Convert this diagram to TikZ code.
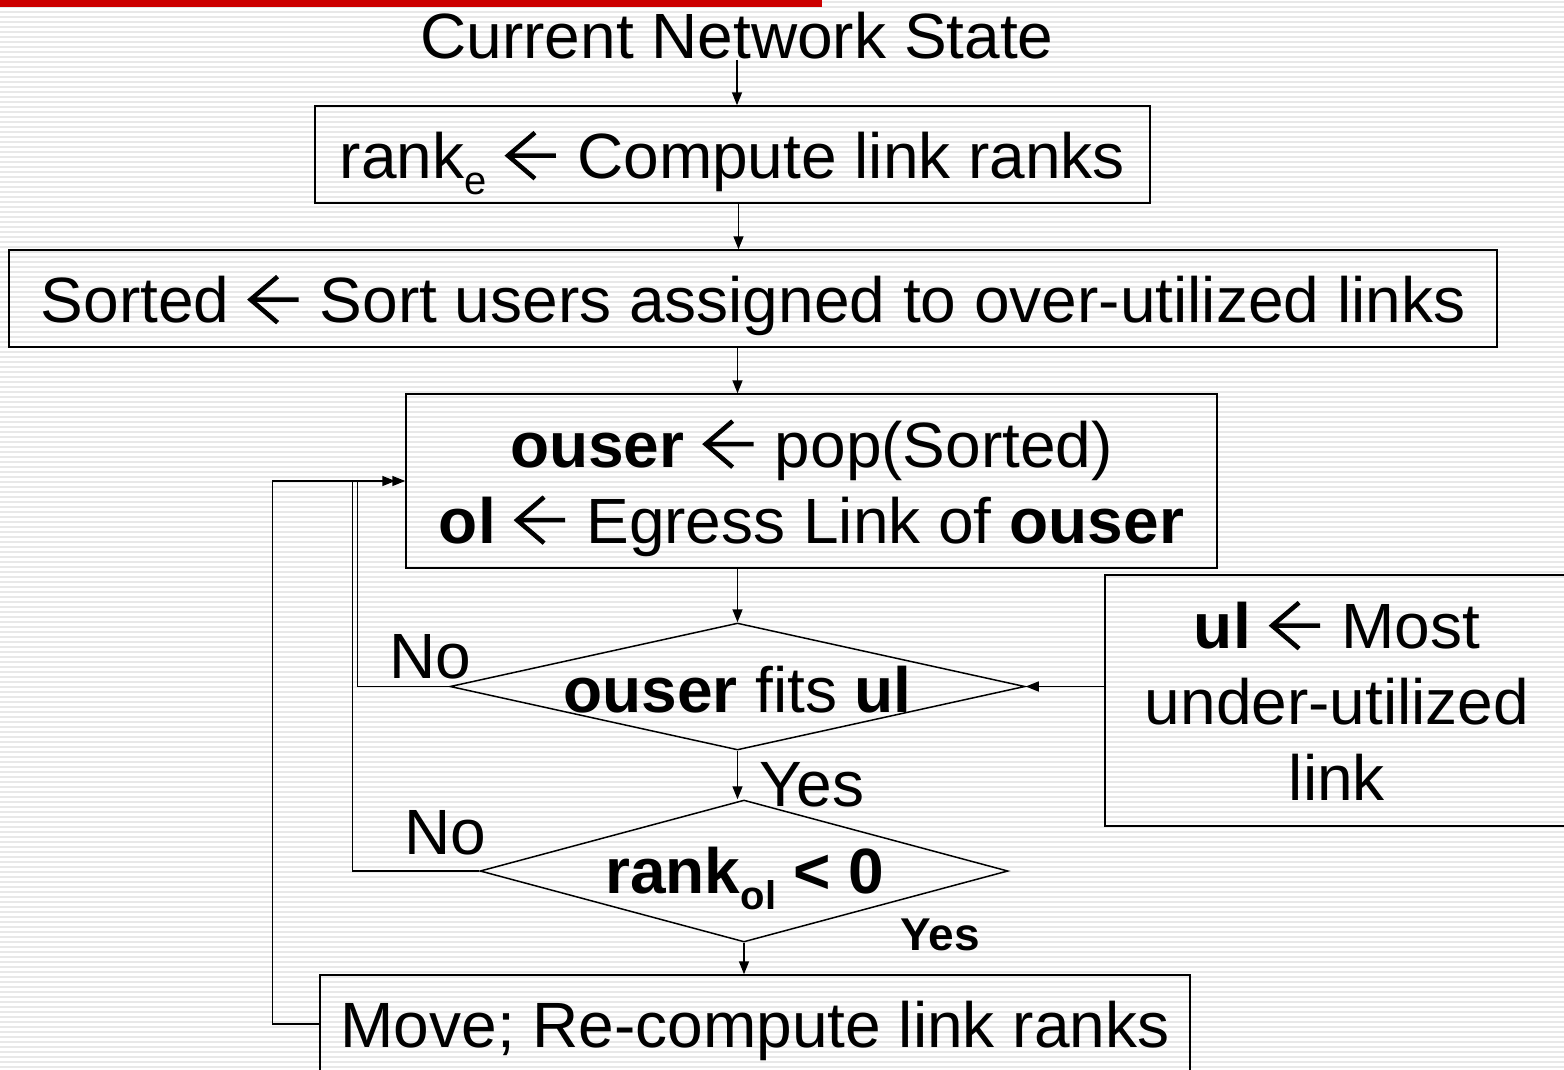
\documentclass[tikz,border=0pt]{standalone}
\usepackage{fontspec}
\setmainfont{Liberation Sans}
\usetikzlibrary{shapes.geometric,arrows.meta,calc}
\tikzset{
  box/.style={draw=black,line width=1.5pt,rectangle,inner sep=0pt,align=center,text depth=0pt,font=\fontsize{64}{76}\selectfont},
  dia/.style={draw=black,line width=1.5pt,diamond,inner sep=0pt},
  txt/.style={inner sep=0pt,font=\fontsize{64}{76}\selectfont,align=center},
  arr/.style={line width=1.5pt,-{Triangle[length=13pt,width=10pt]}},
  stripe/.style={line width=2pt,draw=black!9}
}
\newcommand{\la}{\hspace{19pt}\tikz[baseline=0pt,x=1pt,y=1pt]\draw[line width=4.5pt,line join=miter] (51,23)--(3,23) (30,0)--(3,23)--(30,46);\hspace{19pt}}
\begin{document}
\begin{tikzpicture}[x=1pt,y=-1pt]
\useasboundingbox (0,0) rectangle (1564,1069);
\clip (0,0) rectangle (1564,1069);
\fill[white] (0,0) rectangle (1564,1069);
\foreach \yy in {2,7,...,1067} \draw[stripe] (0,\yy) -- (1564,\yy);
\fill[red!80!black] (0,0) rectangle (822,7);

\node[txt] (title) at (737,36) {Current Network State};
\node[box,minimum width=835pt,minimum height=97pt] (box1) at (732.5,154.5)
  {rank\raisebox{-0.25em}{\fontsize{40}{40}\selectfont e}\la Compute link ranks};
\node[box,minimum width=1488pt,minimum height=97pt] (box2) at (753,298.5)
  {Sorted\la Sort users assigned to over-utilized links};
\node[box,minimum width=811pt,minimum height=174pt] (box3) at (811.5,481)
  {\textbf{ouser}\la pop(Sorted)\\ \textbf{ol}\la Egress Link of \textbf{ouser}};
\node[box,minimum width=464pt,minimum height=251pt] (box4) at (1337,700.5)
  {\textbf{ul}\la Most\\under-utilized\\link};
\node[dia,minimum width=575pt,minimum height=127pt] (d1) at (737.5,686.5) {};
\node[txt] (t1) at (737.5,690) {\textbf{ouser} fits \textbf{ul}};
\node[dia,minimum width=528pt,minimum height=142pt] (d2) at (744,871) {};
\node[txt] (t2) at (745,878) {\textbf{rank\raisebox{-0.25em}{\fontsize{40}{40}\selectfont ol} {<} 0}};
\node[box,minimum width=870pt,minimum height=98pt] (box5) at (755,1024)
  {Move; Re-compute link ranks};

\node[txt] (no1) at (430,657) {No};
\node[txt] (yes1) at (812,785) {Yes};
\node[txt] (no2) at (445,833) {No};
\node[txt,font=\fontsize{46}{50}\selectfont\bfseries] (yes2) at (940,935) {Yes};

\draw[arr] (title.south) -- (title.south |- box1.north);
\draw[arr] ([xshift=6pt]box1.south) -- ([xshift=6pt]box1.south |- box2.north);
\draw[arr] (box2.south -| d1.north) -- (box3.north -| d1.north);
\draw[arr] (box3.south -| d1.north) -- (d1.north);
\draw[arr] (box4.west |- d1.east) -- (d1.east);
\draw[arr] (d1.south) -- (d1.south |- d2.north);
\draw[arr] (d2.south) -- (d2.south |- box5.north);
\draw[arr] (d1.west) -- ++(-92,0) |- (box3.west);
\draw[arr,shorten >=10pt] (d2.west) -- ++(-127,0) |- (box3.west);
\draw[line width=1.5pt] (box5.west) -- ++(-47,0) |- ([xshift=-53pt]box3.west);
\end{tikzpicture}
\end{document}
